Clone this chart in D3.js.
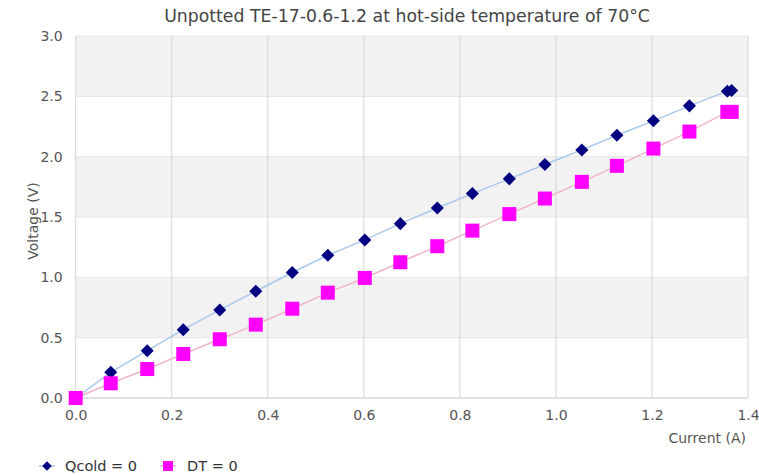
<!DOCTYPE html>
<html>
<head>
<meta charset="utf-8">
<script src="https://cdn.jsdelivr.net/npm/d3@7"></script>
<style>
  body { margin: 0; background: #fff; }
  text { font-family: "DejaVu Sans", sans-serif; }
</style>
</head>
<body>
<svg id="chart" width="759" height="475"></svg>
<script>
// measured values (current in A, voltage in V)
var currentA = [0, 0.073, 0.149, 0.224, 0.300, 0.375, 0.451, 0.525, 0.602, 0.676, 0.753, 0.826, 0.903, 0.977, 1.054, 1.127, 1.203, 1.278, 1.357, 1.366];
var qcoldV = [0, 0.213, 0.392, 0.566, 0.730, 0.885, 1.040, 1.183, 1.310, 1.445, 1.575, 1.694, 1.816, 1.935, 2.056, 2.178, 2.297, 2.421, 2.543, 2.548];
var dtV = [0, 0.122, 0.240, 0.365, 0.487, 0.608, 0.740, 0.873, 0.995, 1.125, 1.258, 1.387, 1.524, 1.653, 1.791, 1.924, 2.067, 2.208, 2.371, 2.371];
var xTicks = [0, 0.2, 0.4, 0.6, 0.8, 1.0, 1.2, 1.4];
var yTicks = [0, 0.5, 1.0, 1.5, 2.0, 2.5, 3.0];

var margin = { top: 36, right: 11, bottom: 77, left: 75.7 },
    width = 759 - margin.left - margin.right,
    height = 475 - margin.top - margin.bottom;

var svg = d3.select("#chart");
var g = svg.append("g")
    .attr("transform", "translate(" + margin.left + "," + margin.top + ")");

var x = d3.scaleLinear().domain([0, 1.4]).range([0, width]);
var y = d3.scaleLinear().domain([0, 3.0]).range([height, 0]);

// alternating background bands
for (var i = 0; i < yTicks.length - 1; i++) {
    g.append("rect")
        .attr("x", 0)
        .attr("y", y(yTicks[i + 1]))
        .attr("width", width)
        .attr("height", y(yTicks[i]) - y(yTicks[i + 1]))
        .attr("fill", i % 2 == 1 ? "#f2f2f2" : "#ffffff");
}

// horizontal grid
g.selectAll(".hgrid")
    .data(yTicks)
    .enter()
    .append("line")
    .attr("x1", 0).attr("x2", width)
    .attr("y1", function (d) { return y(d); })
    .attr("y2", function (d) { return y(d); })
    .attr("stroke", "#e6e6e6")
    .attr("stroke-width", 1);

// vertical grid
g.selectAll(".vgrid")
    .data(xTicks)
    .enter()
    .append("line")
    .attr("x1", function (d) { return x(d); })
    .attr("x2", function (d) { return x(d); })
    .attr("y1", 0).attr("y2", height)
    .attr("stroke", "#d4d4d4")
    .attr("stroke-width", 1);

// bottom axis line
g.append("line")
    .attr("x1", 0).attr("x2", width)
    .attr("y1", height).attr("y2", height)
    .attr("stroke", "#d0d0d0");

// tick labels
var xAxis = d3.axisBottom(x).tickValues(xTicks).tickFormat(d3.format(".1f")).tickSize(0).tickPadding(12);
var yAxis = d3.axisLeft(y).tickValues(yTicks).tickFormat(d3.format(".1f")).tickSize(0).tickPadding(13);

var gx = g.append("g").attr("transform", "translate(0," + height + ")").call(xAxis);
var gy = g.append("g").call(yAxis);
[gx, gy].forEach(function (a) {
    a.select(".domain").remove();
    a.selectAll("text")
        .attr("fill", "#555")
        .style("font-size", "14px")
        .style("font-family", "DejaVu Sans, sans-serif");
});

// lines
var qData = currentA.map(function (c, i) { return [c, qcoldV[i]]; });
var dData = currentA.map(function (c, i) { return [c, dtV[i]]; });
var line = d3.line()
    .x(function (d) { return x(d[0]); })
    .y(function (d) { return y(d[1]); });

g.append("path").datum(qData)
    .attr("d", line)
    .attr("fill", "none")
    .attr("stroke", "#a9c8ec")
    .attr("stroke-width", 1.5);

g.append("path").datum(dData)
    .attr("d", line)
    .attr("fill", "none")
    .attr("stroke", "#f0b4cc")
    .attr("stroke-width", 1.5);

// markers
var diamond = d3.symbol().type(d3.symbolSquare).size(85);
g.selectAll(".qpt")
    .data(qData)
    .enter()
    .append("path")
    .attr("d", diamond)
    .attr("transform", function (d) { return "translate(" + x(d[0]) + "," + y(d[1]) + ") rotate(45)"; })
    .attr("fill", "#000080");

g.selectAll(".dpt")
    .data(dData)
    .enter()
    .append("rect")
    .attr("x", function (d) { return x(d[0]) - 7; })
    .attr("y", function (d) { return y(d[1]) - 7; })
    .attr("width", 14)
    .attr("height", 14)
    .attr("fill", "#ff00ff");

// title
svg.append("text")
    .attr("x", 407)
    .attr("y", 22)
    .attr("text-anchor", "middle")
    .attr("fill", "#444")
    .style("font-size", "17.3px")
    .text("Unpotted TE-17-0.6-1.2 at hot-side temperature of 70°C");

// axis titles
svg.append("text")
    .attr("x", 746)
    .attr("y", 443)
    .attr("text-anchor", "end")
    .attr("fill", "#555")
    .style("font-size", "14px")
    .text("Current (A)");

svg.append("text")
    .attr("transform", "translate(38,221) rotate(-90)")
    .attr("text-anchor", "middle")
    .attr("fill", "#555")
    .style("font-size", "14px")
    .text("Voltage (V)");

// legend
var leg = svg.append("g").attr("transform", "translate(0,466)");
leg.append("line").attr("x1", 39).attr("x2", 55).attr("y1", 0).attr("y2", 0)
    .attr("stroke", "#a9c8ec").attr("stroke-width", 1.5);
leg.append("path").attr("d", d3.symbol().type(d3.symbolSquare).size(45))
    .attr("transform", "translate(47,0) rotate(45)").attr("fill", "#000080");
leg.append("text").attr("x", 65).attr("y", 5).attr("fill", "#333")
    .style("font-size", "14.5px").text("Qcold = 0");
leg.append("line").attr("x1", 160).attr("x2", 176).attr("y1", 0).attr("y2", 0)
    .attr("stroke", "#f0b4cc").attr("stroke-width", 1.5);
leg.append("rect").attr("x", 163).attr("y", -5).attr("width", 10).attr("height", 10)
    .attr("fill", "#ff00ff");
leg.append("text").attr("x", 187).attr("y", 5).attr("fill", "#333")
    .style("font-size", "14.5px").text("DT = 0");
</script>
</body>
</html>
